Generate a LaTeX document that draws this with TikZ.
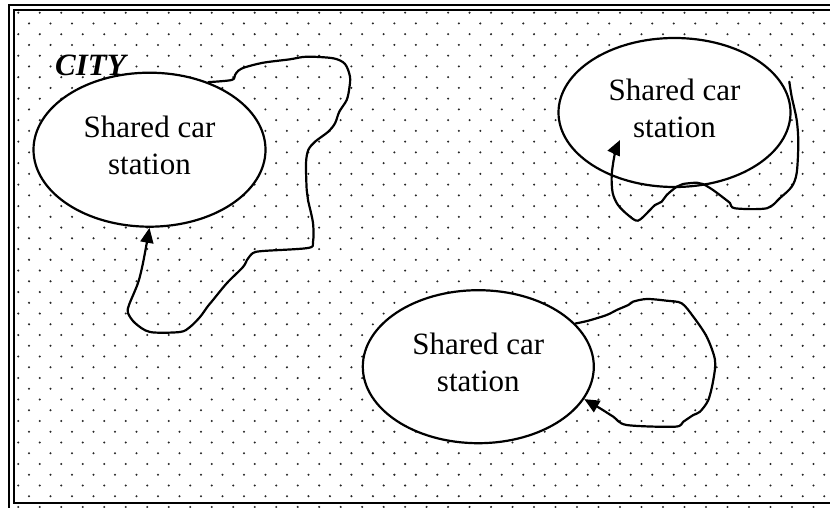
\documentclass[tikz,border=0pt]{standalone}
\usepackage{fontspec}
\setmainfont{Liberation Serif}
\usetikzlibrary{shapes.geometric,arrows.meta}
\definecolor{dotc}{gray}{0.15}
\tikzset{
  station/.style={ellipse, draw=black, line width=2.2pt, fill=white, inner sep=0pt,
    align=center, font=\fontsize{31}{37}\selectfont},
  route/.style={line width=2.2pt, line join=round, line cap=round},
  routearrow/.style={route, -{Triangle[length=15pt,width=13pt]}},
  frameline/.style={line width=2pt},
}
\begin{document}
\begin{tikzpicture}[x=1pt,y=-1pt]
\useasboundingbox (0,0) rectangle (830,508);
\clip (0,0) rectangle (830,508);
% dotted background
\fill[dotc]
  \foreach \j in {0,2,...,46} { \foreach \i in {0,2,...,74} { ({18.3+10.745*\i},{12.7+10.745*\j}) circle (1.15) } }
  \foreach \j in {1,3,...,45} { \foreach \i in {1,3,...,75} { ({18.3+10.745*\i},{12.7+10.745*\j}) circle (1.15) } };
% double frame
\draw[frameline] (9,5) rectangle (845,520);
\draw[frameline] (14,9.7) rectangle (845,502.7);
% stations
\node[station, minimum width=232pt, minimum height=154pt] (e1) at (149.5,149.7) {Shared car\\station\rule[-8pt]{0pt}{8pt}};
\node[station, minimum width=232pt, minimum height=149pt] (e2) at (674.5,112.5) {Shared car\\station\rule[-8pt]{0pt}{8pt}};
\node[station, minimum width=231pt, minimum height=153pt] (e3) at (478.3,366.7) {Shared car\\station\rule[-8pt]{0pt}{8pt}};
% city label
\node[anchor=base west, inner sep=0pt, font=\fontsize{31}{36}\selectfont\bfseries\itshape] (city) at (55,76) {CITY};
% free ends of the top-right route
\coordinate (c2s) at (789.3,81.7);
\coordinate (c2e) at (620,140);
% routes
\draw[routearrow] plot[smooth, tension=0.5] coordinates {
  (e1.49) (231.7,80) (235,75) (238.3,70.7) (245,67.3) (263.3,62.7) (290,59.3)
  (306.7,56.7) (333.3,58.3) (345,64) (350,76.7) (349.3,88.3) (346.7,100)
  (339.3,111.7) (335,123.3) (328.3,131.7) (315,141.7) (308.3,150) (306,163.3)
  (306.7,190) (308,200) (313,223) (313,242) (308,248) (263,251) (253,253)
  (247,260) (243,267) (227,283) (213,300) (208,306) (200,317) (190,327)
  (180,332) (150,332) (135,323) (128,313) (129,305) (138,283) (143,263)
  (e1.-90)};
\draw[routearrow] plot[smooth, tension=0.5] coordinates {
  (c2s) (791.7,96.7) (796.7,120) (798.3,143) (796.7,173) (791.7,186.7)
  (780,198) (766.7,208.3) (735,208.3) (730,203) (725,199) (713,190) (703,184)
  (696.7,182.7) (683,184) (676.7,186.7) (666.7,195) (661.7,201.7) (655,205)
  (650,210) (638,220.7) (628,215) (618,205) (612.7,193) (611.7,175) (615,153)
  (c2e)};
\draw[routearrow] plot[smooth, tension=0.5] coordinates {
  (e3.24.5) (588.3,320.7) (606.7,315) (616.7,310) (628.3,305) (633,301.7)
  (646.7,299) (666.7,300.7) (681.7,303.3) (693.3,316.7) (706.7,336.7) (715,360)
  (713.3,380) (708.3,400) (700,411.7) (693.3,415) (683.3,421.7) (675,426.7)
  (626.7,425) (613.3,416.7) (600,408.3) (e3.-17)};
\end{tikzpicture}
\end{document}
